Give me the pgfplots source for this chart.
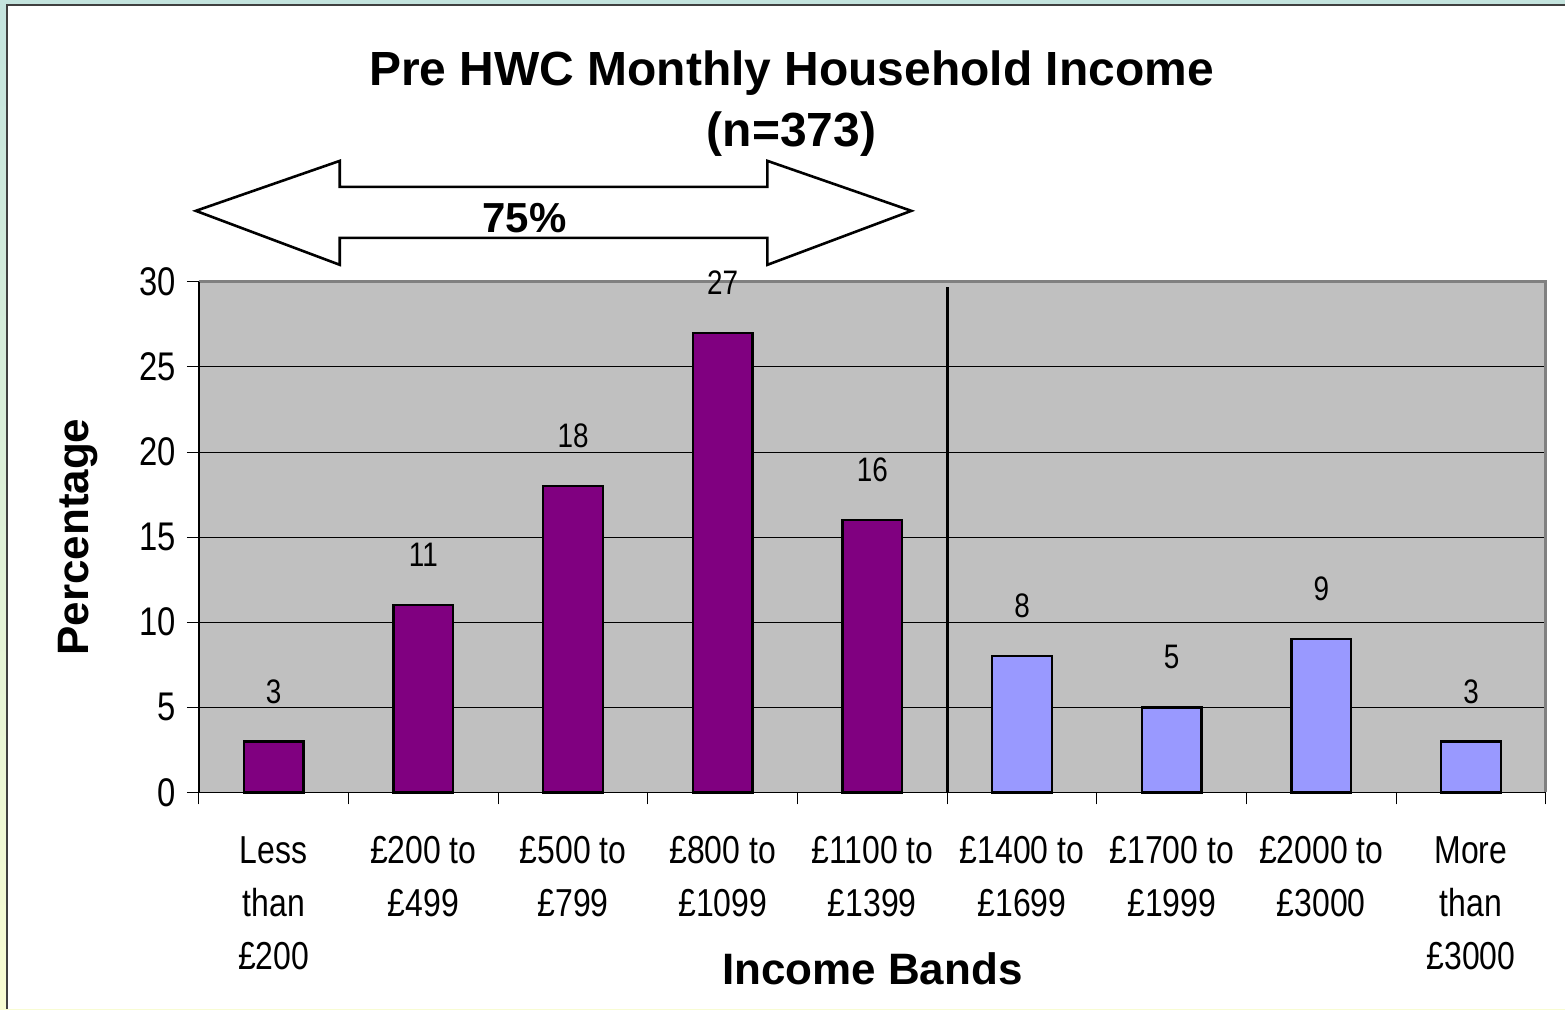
\documentclass[border=0pt]{standalone}
\usepackage{pgfplots}
\pgfplotsset{compat=1.18}
\usepackage{fontspec}
\setmainfont{Liberation Sans}
\newfontfamily\narrow[FakeStretch=0.82]{Liberation Sans}
\definecolor{barpurple}{HTML}{800080}
\definecolor{barblue}{HTML}{9999FF}
\definecolor{plotgray}{HTML}{C0C0C0}
\definecolor{framegray}{HTML}{808080}
\definecolor{bgtop}{HTML}{C4E4DE}
\definecolor{bgbot}{HTML}{F8FCD2}
\begin{document}
\begin{tikzpicture}[x=1pt,y=1pt]
% page background and white panel
\shade[top color=bgtop, bottom color=bgbot] (0,0) rectangle (783,-505);
\fill[white] (3.5,-2.5) rectangle (783,-505);
\draw[line width=1.2pt, black!75] (3.5,-505) -- (3.5,-2.5) -- (783,-2.5);
% title
\node[font=\fontsize{24}{28}\bfseries\selectfont] at (396,-36.5) {Pre HWC Monthly Household Income};
\node[font=\fontsize{24}{28}\bfseries\selectfont] at (396,-67) {(n=373)};
% double arrow
\draw[line width=1.3pt, fill=white, line join=miter]
  (98,-105.5) -- (170,-80.5) -- (170,-93.5) -- (384,-93.5) -- (384,-80.5)
  -- (456,-105.5) -- (384,-132.5) -- (384,-119) -- (170,-119) -- (170,-132.5) -- cycle;
\node[font=\fontsize{21}{25}\bfseries\selectfont] at (262.5,-109) {75\%};
\begin{axis}[
  at={(99.5pt,-396.5pt)}, anchor=south west,
  width=674pt, height=255.5pt, scale only axis,
  xmin=-0.5, xmax=8.5, ymin=0, ymax=30,
  ytick={0,5,...,30},
  xtick={-0.5,0.5,...,8.5},
  x tick label as interval,
  xticklabels={{Less\\than\\£200},{£200 to\\£499},{£500 to\\£799},{£800 to\\£1099},{£1100 to\\£1399},{£1400 to\\£1699},{£1700 to\\£1999},{£2000 to\\£3000},{More\\than\\£3000}},
  xtick pos=bottom, ytick pos=left,
  tick align=outside,
  major tick length=6pt,
  tick style={black, line width=0.5pt},
  ymajorgrids, grid style={black, line width=0.5pt},
  axis line style={draw=none},
  axis background/.style={fill=plotgray},
  clip=false,
  /pgf/number format/assume math mode=true,
  yticklabel style={font=\narrow\fontsize{20}{24}\selectfont, xshift=-2pt},
  xticklabel style={font=\narrow\fontsize{19.5}{26.5}\selectfont, align=center, yshift=-12.5pt},
  xlabel={Income Bands},
  ylabel={Percentage},
  xlabel style={font=\fontsize{22}{26}\bfseries\selectfont, at={(axis description cs:0.5,-0.3464)}, anchor=center},
  ylabel style={font=\fontsize{22}{26}\bfseries\selectfont, at={(axis description cs:-0.0898,0.5)}, anchor=center},
  nodes near coords style={font=\narrow\fontsize{17}{20}\selectfont, anchor=center, yshift=25pt, text=black},
]
\addplot[ybar, bar width=0.4, bar shift=0pt, fill=barpurple, draw=black, line width=1.2pt, nodes near coords]
  coordinates {(0,3) (1,11) (2,18) (3,27) (4,16)};
\addplot[ybar, bar width=0.4, bar shift=0pt, fill=barblue, draw=black, line width=1.2pt, nodes near coords]
  coordinates {(5,8) (6,5) (7,9) (8,3)};
\draw[framegray, line width=1.5pt] (rel axis cs:0,1) -- (rel axis cs:1,1) -- (rel axis cs:1,0);
\draw[black, line width=0.8pt] (rel axis cs:0,1) -- (rel axis cs:0,0) -- (rel axis cs:1,0);
\draw[black, line width=1.5pt] (axis cs:4.5,0) -- (axis cs:4.5,29.7);
\end{axis}
\end{tikzpicture}
\end{document}
